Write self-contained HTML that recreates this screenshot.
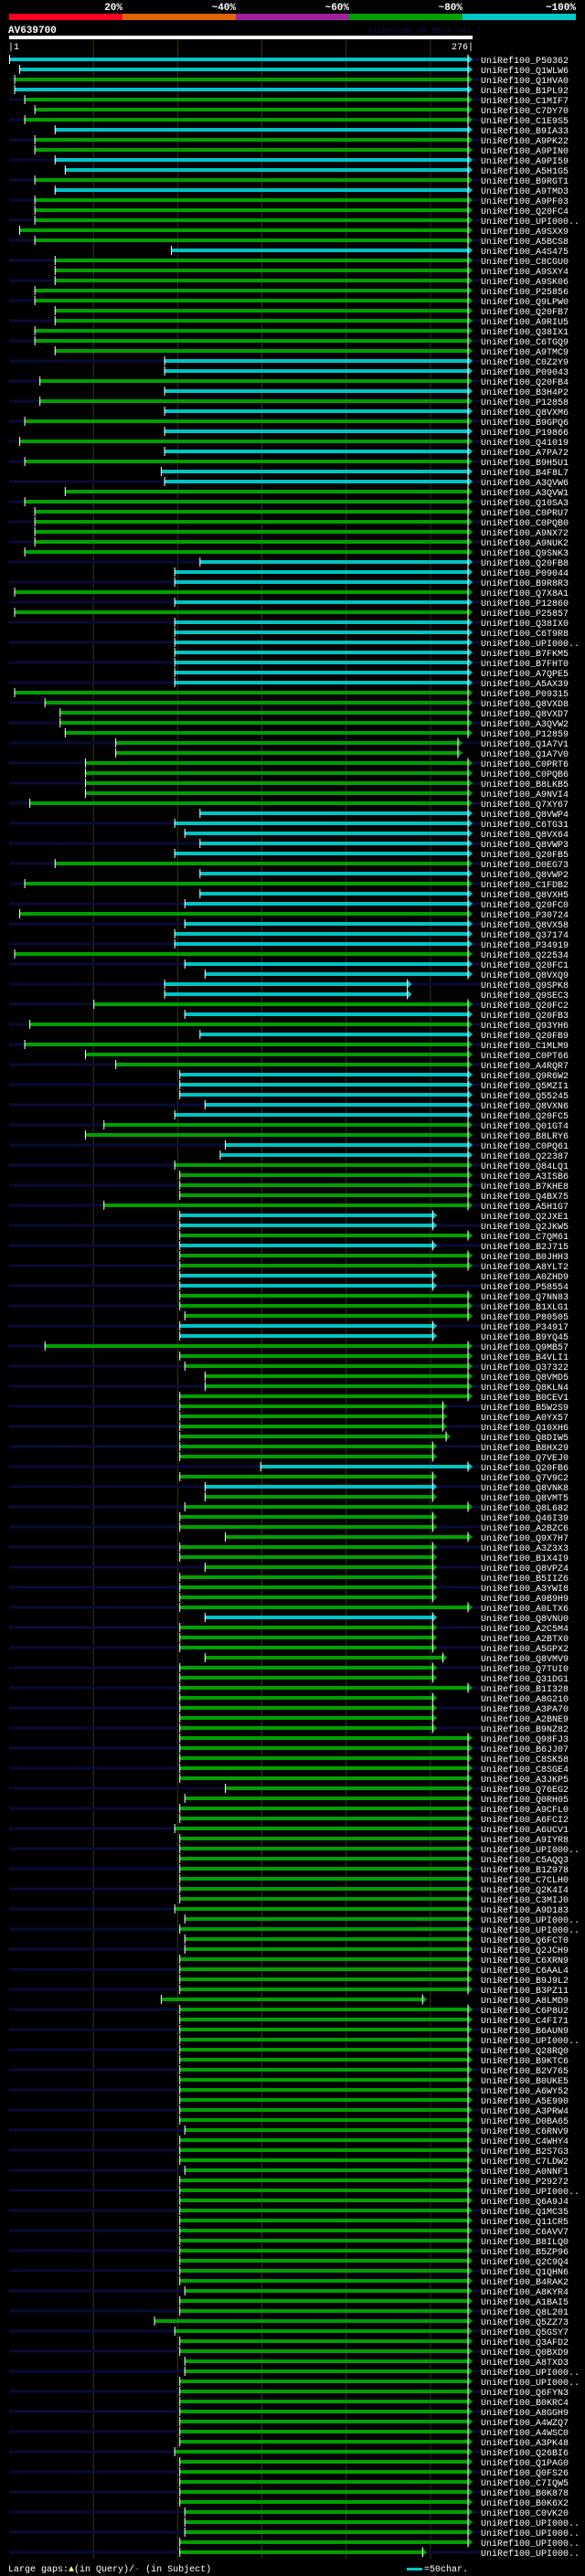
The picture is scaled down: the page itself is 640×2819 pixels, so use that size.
<!DOCTYPE html>
<html><head><meta charset="utf-8">
<style>
html,body{margin:0;padding:0;background:#000;}
body{width:640px;height:2819px;overflow:hidden;font-family:"Liberation Mono","DejaVu Sans Mono",monospace;}
svg{display:block}
</style></head>
<body>
<svg id="chart" width="640" height="2819" xmlns="http://www.w3.org/2000/svg">
  <g>
    <rect x="10" y="15" width="124" height="7" fill="#ff0022"/>
    <rect x="134" y="15" width="124" height="7" fill="#dd6600"/>
    <rect x="258" y="15" width="124" height="7" fill="#a020a0"/>
    <rect x="382" y="15" width="124" height="7" fill="#00a000"/>
    <rect x="506" y="15" width="124" height="7" fill="#00c8c8"/>
    <g font-size="11" font-weight="bold" fill="#fff" text-anchor="end">
      <text x="134" y="11">20%</text>
      <text x="258" y="11">~40%</text>
      <text x="382" y="11">~60%</text>
      <text x="506" y="11">~80%</text>
      <text x="630" y="11">~100%</text>
    </g>
  </g>
  <text x="9" y="36" font-size="11" font-weight="bold" fill="#fff">AV639700</text>
  <text x="402" y="36" font-size="9" fill="#101050">AlignView.pm Beta rel.7</text>
  <rect x="10" y="39" width="507" height="4" fill="#fff"/>
  <text x="9" y="54" font-size="10" fill="#fff">|1</text>
  <text x="518" y="54" font-size="10" fill="#fff" text-anchor="end">276|</text>
  <g id="grid"></g>
  <g id="rows"></g>
  <g>
    <text x="9" y="2814" font-size="10" fill="#fff">Large gaps:<tspan fill="#ffff80">▲</tspan>(in Query)/<tspan fill="#00c8c8">-</tspan> (in Subject)</text>
    <rect x="445" y="2810" width="17" height="3" fill="#00c8c8"/>
    <text x="464" y="2814" font-size="10" fill="#fff">=50char.</text>
  </g>
</svg>
<script>
const queryLength = 276;
const hitNames = ["P50362","Q1WLW6","Q1HVA0","B1PL92","C1MIF7","C7DY70","C1E9S5","B9IA33","A9PK22","A9PIN0","A9PI59","A5H1G5","B9RGT1","A9TMD3","A9PF03","Q20FC4","UPI000..","A9SXX9","A5BCS8","A4S475","C8CGU0","A9SXY4","A9SK06","P25856","Q9LPW0","Q20FB7","A9RIU5",
"Q38IX1","C6TGQ9","A9TMC9","C0Z2Y9","P09043","Q20FB4","B3H4P2","P12858","Q8VXM6","B9GPQ6","P19866","Q41019","A7PA72","B9H5U1","B4F8L7","A3QVW6","A3QVW1","Q10SA3","C0PRU7","C0PQB0","A9NX72","A9NUK2","Q9SNK3","Q20FB8","P09044","B9R8R3","Q7X8A1",
"P12860","P25857","Q38IX0","C6T9R8","UPI000..","B7FKM5","B7FHT0","A7QPE5","A5AX39","P09315","Q8VXD8","Q8VXD7","A3QVW2","P12859","Q1A7V1","Q1A7V0","C0PRT6","C0PQB6","B8LKB5","A9NVI4","Q7XY67","Q8VWP4","C6TG31","Q8VX64","Q8VWP3","Q20FB5","D0EG73",
"Q8VWP2","C1FDB2","Q8VXH5","Q20FC0","P30724","Q8VX58","Q37174","P34919","Q22534","Q20FC1","Q8VXQ9","Q9SPK8","Q9SEC3","Q20FC2","Q20FB3","Q93YH6","Q20FB9","C1MLM9","C0PT66","A4RQR7","Q9R6W2","Q5MZI1","Q55245","Q8VXN6","Q20FC5","Q01GT4","B8LRY6","C0PQ61",
"Q22387","Q84LQ1","A3ISB6","B7KHE8","Q4BX75","A5H1G7","Q2JXE1","Q2JKW5","C7QM61","B2J715","B0JHH3","A8YLT2","A0ZHD9","P58554","Q7NN83","B1XLG1","P80505","P34917","B9YQ45","Q9MB57","B4VLI1","Q37322","Q8VMD5","Q8KLN4","B0CEV1","B5W2S9","A0YX57",
"Q10XH6","Q8DIW5","B8HX29","Q7VEJ0","Q20FB6","Q7V9C2","Q8VNK8","Q8VMT5","Q8L682","Q46I39","A2BZC6","Q9X7H7","A3Z3X3","B1X4I9","Q8VPZ4","B5IIZ6","A3YWI8","A9B9H9","A0LTX6","Q8VNU0","A2C5M4","A2BTX0","A5GPX2","Q8VMV9","Q7TUI0","Q31DG1","B1I328","A8G210",
"A3PA70","A2BNE9","B9NZ82","Q98FJ3","B6JJ07","C8SK58","C8SGE4","A3JKP5","Q76EG2","Q0RH05","A9CFL0","A6FCI2","A6UCV1","A9IYR8","UPI000..","C5AQQ3","B1Z978","C7CLH0","Q2K4I4","C3MIJ0","A9D183","UPI000..","UPI000..","Q6FCT0","Q2JCH9","C6XRN9","C6AAL4",
"B9J9L2","B3PZ11","A8LMD9","C6P8U2","C4FI71","B6AUN9","UPI000..","Q28RQ0","B9KTC6","B2V765","B0UKE5","A6WY52","A5E990","A3PRW4","D0BA65","C6RNV9","C4WHY4","B2S7G3","C7LDW2","A0NNF1","P29272","UPI000..","Q6A9J4","Q1MC35","Q11CR5","C6AVV7","B8ILQ0",
"B5ZP96","Q2C9Q4","Q1QHN6","B4RAK2","A8KYR4","A1BAI5","Q8L201","Q5ZZ73","Q5GSY7","Q3AFD2","Q0BXD9","A8TXD3","UPI000..","UPI000..","Q6FYN3","B0KRC4","A8GGH9","A4WZQ7","A4WSC0","A3PK48","Q26BI6","Q1PAG0","Q0FS26","C7IQW5","B0K878",
"B0K6X2","C0VK20","UPI000..","UPI000..","UPI000..","UPI000.."];
const hitStarts = [1,7,4,4,10,16,10,28,16,16,28,34,16,28,16,16,16,7,16,97,28,28,28,16,16,28,28,
16,16,28,93,93,19,93,19,93,10,93,7,93,10,91,93,34,10,16,16,16,16,10,114,99,99,4,
99,4,99,99,99,99,99,99,99,4,22,31,31,34,64,64,46,46,46,46,13,114,99,105,114,99,28,
114,10,114,105,7,105,99,99,4,105,117,93,93,51,105,13,114,10,46,64,102,102,102,117,99,57,46,129,
126,99,102,102,102,57,102,102,102,102,102,102,102,102,102,102,105,102,102,22,102,105,117,117,102,102,102,
102,102,102,102,150,102,117,117,105,102,102,129,102,102,117,102,102,102,102,117,102,102,102,117,102,102,102,102,
102,102,102,102,102,102,102,102,129,105,102,102,99,102,102,102,102,102,102,102,99,105,102,105,105,102,102,
102,102,91,102,102,102,102,102,102,102,102,102,102,102,102,105,102,102,102,105,102,102,102,102,102,102,102,
102,102,102,102,105,102,102,87,99,102,102,105,105,102,102,102,102,102,102,102,99,102,102,102,102,
102,105,105,105,102,102];
const hitEndOverrides = {68:270,69:270,92:240,93:240,115:255,116:255,118:255,121:255,122:255,126:255,127:255,
134:261,135:261,136:261,137:263,138:255,139:255,141:255,142:255,143:255,145:255,146:255,148:255,149:255,150:255,
151:255,152:255,153:255,155:255,156:255,157:255,158:255,159:261,160:255,161:255,163:255,164:255,165:255,166:255,193:249,248:249};
const cyanHits = [0,1,3,7,10,11,13,19,30,31,33,35,37,39,41,42,50,51,52,54,56,57,58,59,60,61,62,75,76,77,78,79,81,83,84,86,87,88,90,91,92,93,95,97,101,102,103,104,105,108,109,115,116,118,121,122,126,127,140,142,155];
const gridResidues = [51,101,151,201,251];

const NS = "http://www.w3.org/2000/svg";
const xScale = r => 10 + (r - 1) * (507 / (queryLength - 1));
const yRow = i => 65 + i * 11;
function mk(tag, attrs, parent){const e=document.createElementNS(NS,tag);for(const k in attrs)e.setAttribute(k,attrs[k]);parent.appendChild(e);return e;}

const grid = document.getElementById('grid');
gridResidues.forEach(r=>{
  const l = mk('line',{x1:xScale(r),x2:xScale(r),y1:44,y2:2800,stroke:'#38380c','stroke-width':1},grid);
  
  
});

const rows = document.getElementById('rows');
hitNames.forEach((name,i)=>{
  const y = yRow(i);
  const s = hitStarts[i];
  const e = hitEndOverrides[i] || queryLength;
  const col = cyanHits.includes(i) ? '#00c4c4' : '#00a000';
  const g = mk('g',{},rows);
  
  
  if(i % 2 === 0){
    const st = mk('rect',{x:10,y:y-1.5,width:516,height:3,fill:'#0a0a38'},g);
    
    
  }
  const xs = xScale(s), xe = xScale(e);
  const bar = mk('rect',{x:xs,y:y-2,width:Math.max(0,xe-5-xs),height:4,fill:col},g);
  
  
  const tk = mk('rect',{x:xs,y:y-5,width:1,height:10,fill:'#fff'},g);
  
  
  const ar = mk('polygon',{points:`${xe-5},${y-4.5} ${xe},${y} ${xe-5},${y+4.5}`,fill:col},g);
  
  
  const el = mk('rect',{x:xe-5.5,y:y-5.5,width:1,height:11,fill:'#fff'},g);
  
  
  const t = mk('text',{x:526,y:y+4,'font-size':10,fill:'#fff'},g);
  t.textContent = 'UniRef100_' + name;
  
  
});
</script>
</body></html>
